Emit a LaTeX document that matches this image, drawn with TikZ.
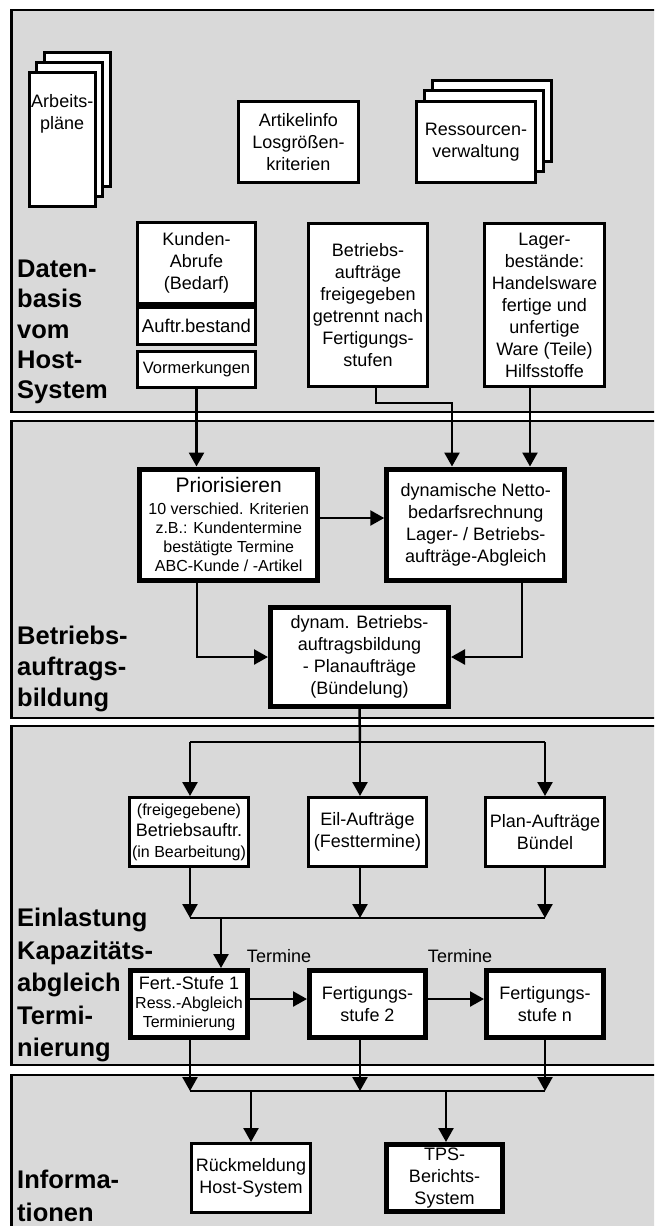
\documentclass[tikz,border=0pt]{standalone}
\usepackage{fontspec}
\setmainfont{Liberation Sans}
\usetikzlibrary{arrows.meta,calc}
\begin{document}
\begin{tikzpicture}[x=1pt,y=-1pt,
  panel/.style={draw, line width=2.5pt, fill=black!15},
  box/.style={draw, line width=3pt, fill=white, inner sep=0pt, align=center,
    font=\fontsize{18}{22}\selectfont},
  tbox/.style={box, line width=5pt},
  txt/.style={inner sep=0pt, align=center, font=\fontsize{18}{22}\selectfont},
  sect/.style={anchor=west, align=left, inner sep=0pt},
  ln/.style={line width=2.5pt},
  arr/.style={line width=2.5pt, -{Triangle[width=15pt,length=14pt]}}
]
\useasboundingbox (0,0) rectangle (654,1226);
\clip (0,0) rectangle (654,1226);
% panels
\draw[panel] (11.5,10) rectangle (680,412);
\draw[panel] (11.5,421) rectangle (680,718);
\draw[panel] (11.5,726) rectangle (680,1065);
\draw[panel] (11.5,1075) rectangle (680,1250);
% section labels
\node[sect, font=\bfseries\fontsize{25.5}{30.25}\selectfont] (s1) at (17,332) {Daten-\\basis\\vom\\Host-\\System};
\node[sect, font=\bfseries\fontsize{25.5}{31}\selectfont] (s2) at (17,669) {Betriebs-\\auftrags-\\bildung};
\node[sect, font=\bfseries\fontsize{25.5}{32.5}\selectfont] (s3) at (17,985) {Einlastung\\Kapazit\"ats-\\abgleich\\Termi-\\nierung};
\node[sect, font=\bfseries\fontsize{25.5}{33}\selectfont] (s4) at (17,1196) {Informa-\\tionen};
% document stacks
\node[box, minimum width=66pt, minimum height=134pt] (ap3) at (77.5,119) {};
\node[box, minimum width=66pt, minimum height=134pt] (ap2) at (69,129.5) {};
\node[box, minimum width=66pt, minimum height=134pt] (ap1) at (62.25,139.5) {};
\node[txt] (apt) at (62.25,114) {Arbeits-\\pl\"ane};
\node[box, minimum width=120pt, minimum height=81pt] (art) at (298.5,142) {Artikelinfo\\Losgr\"o\ss en-\\kriterien};
\node[box, minimum width=119pt, minimum height=81pt] (res3) at (492,121) {};
\node[box, minimum width=119pt, minimum height=81pt] (res2) at (484,131) {};
\node[box, minimum width=119pt, minimum height=81pt] (res1) at (476,142) {Ressourcen-\\verwaltung};
% host data
\node[box, minimum width=118pt, minimum height=81pt] (kund) at (196.5,263) {Kunden-\\Abrufe\\(Bedarf)};
\node[box, minimum width=118pt, minimum height=37pt, font=\fontsize{18.5}{22}\selectfont] (auft) at (196.5,326) {Auftr.bestand};
\draw[line width=5pt] (kund.south west) -- (kund.south east);
\node[box, minimum width=118pt, minimum height=36pt, font=\fontsize{16.5}{20}\selectfont] (vorm) at (196.5,369) {Vormerkungen};
\node[box, minimum width=119pt, minimum height=163pt] (betr) at (368,305) {Betriebs-\\auftr\"age\\freigegeben\\getrennt nach\\Fertigungs-\\stufen};
\node[box, minimum width=120pt, minimum height=163pt] (lager) at (544.5,305) {Lager-\\best\"ande:\\Handelsware\\fertige und\\unfertige\\Ware (Teile)\\Hilfsstoffe};
% Betriebsauftragsbildung
\node[tbox, minimum width=178pt, minimum height=111pt, font=\fontsize{16}{19}\selectfont] (prior) at (228.75,524.5) {{\fontsize{21}{24}\selectfont Priorisieren}\\[3pt]10 verschied. Kriterien\\z.B.: Kundentermine\\best\"atigte Termine\\ABC-Kunde / -Artikel};
\node[tbox, minimum width=178pt, minimum height=111pt] (netto) at (475.75,524.5) {dynamische Netto-\\bedarfsrechnung\\Lager- / Betriebs-\\auftr\"age-Abgleich};
\node[tbox, minimum width=178pt, minimum height=99pt] (buend) at (359.5,657) {dynam. Betriebs-\\auftragsbildung\\- Planauftr\"age\\(B\"undelung)};
% Einlastung
\node[box, minimum width=119pt, minimum height=69pt, font=\fontsize{16}{21}\selectfont] (frei) at (189,832) {(freigegebene)\\{\fontsize{18}{21}\selectfont Betriebsauftr.}\\(in Bearbeitung)};
\node[box, minimum width=118pt, minimum height=69pt] (eil) at (367.5,832) {Eil-Auftr\"age\\(Festtermine)};
\node[box, minimum width=119pt, minimum height=69pt] (plan) at (545,832) {Plan-Auftr\"age\\B\"undel};
\node[tbox, minimum width=117pt, minimum height=67pt, font=\fontsize{16}{19}\selectfont] (f1) at (189,1004) {{\fontsize{18}{21}\selectfont Fert.-Stufe 1}\\Ress.-Abgleich\\Terminierung};
\node[tbox, minimum width=116pt, minimum height=67pt] (f2) at (367.5,1004) {Fertigungs-\\stufe 2};
\node[tbox, minimum width=117pt, minimum height=67pt] (fn) at (545,1004) {Fertigungs-\\stufe n};
\node[txt] (t1) at (279,956) {Termine};
\node[txt] (t2) at (460,956) {Termine};
% Informationen
\node[box, minimum width=119pt, minimum height=69pt] (rueck) at (251,1178) {R\"uckmeldung\\Host-System};
\node[tbox, minimum width=116pt, minimum height=67pt] (tps) at (444.5,1178) {TPS-\\Berichts-\\System};
% connectors
\draw[arr] (vorm.south) -- (vorm.south |- prior.north);
\coordinate (bk) at (452,403);
\draw[arr] ([xshift=8pt]betr.south) |- (bk) -- (bk |- netto.north);
\draw[arr] ([xshift=-14.5pt]lager.south) -- ([xshift=-14.5pt]lager.south |- netto.north);
\draw[arr] ([yshift=6.5pt]prior.east) -- ([yshift=6.5pt]prior.east -| netto.west);
\draw[arr] ([xshift=-31.75pt]prior.south) |- (buend.west);
\draw[arr] ([xshift=46.25pt]netto.south) |- (buend.east);
\coordinate (dl) at (190,742);
\coordinate (dm) at (360,742);
\coordinate (dr) at (545,742);
\draw[ln] (buend.south) -- (dm);
\draw[ln] (dl) -- (dr);
\draw[arr] (dl) -- (dl |- frei.north);
\draw[arr] (dm) -- (dm |- eil.north);
\draw[arr] (dr) -- (dr |- plan.north);
\coordinate (cl) at (190,918);
\coordinate (cm) at (360,918);
\coordinate (cr) at (545,918);
\draw[arr] (cl |- frei.south) -- (cl);
\draw[arr] (cm |- eil.south) -- (cm);
\draw[arr] (cr |- plan.south) -- (cr);
\draw[ln] (cl) -- (cr);
\coordinate (c1) at (221,918);
\draw[arr] (c1) -- (c1 |- f1.north);
\draw[arr] ([yshift=5pt]f1.east) -- ([yshift=5pt]f1.east -| f2.west);
\draw[arr] ([yshift=5pt]f2.east) -- ([yshift=5pt]f2.east -| fn.west);
\coordinate (ol) at (190,1091);
\coordinate (om) at (360,1091);
\coordinate (or) at (545,1091);
\draw[arr] (ol |- f1.south) -- (ol);
\draw[arr] (om |- f2.south) -- (om);
\draw[arr] (or |- fn.south) -- (or);
\draw[ln] (ol) -- (or);
\coordinate (r1) at (251,1091);
\coordinate (r2) at (446,1091);
\draw[arr] (r1) -- (r1 |- rueck.north);
\draw[arr] (r2) -- (r2 |- tps.north);
\end{tikzpicture}
\end{document}
